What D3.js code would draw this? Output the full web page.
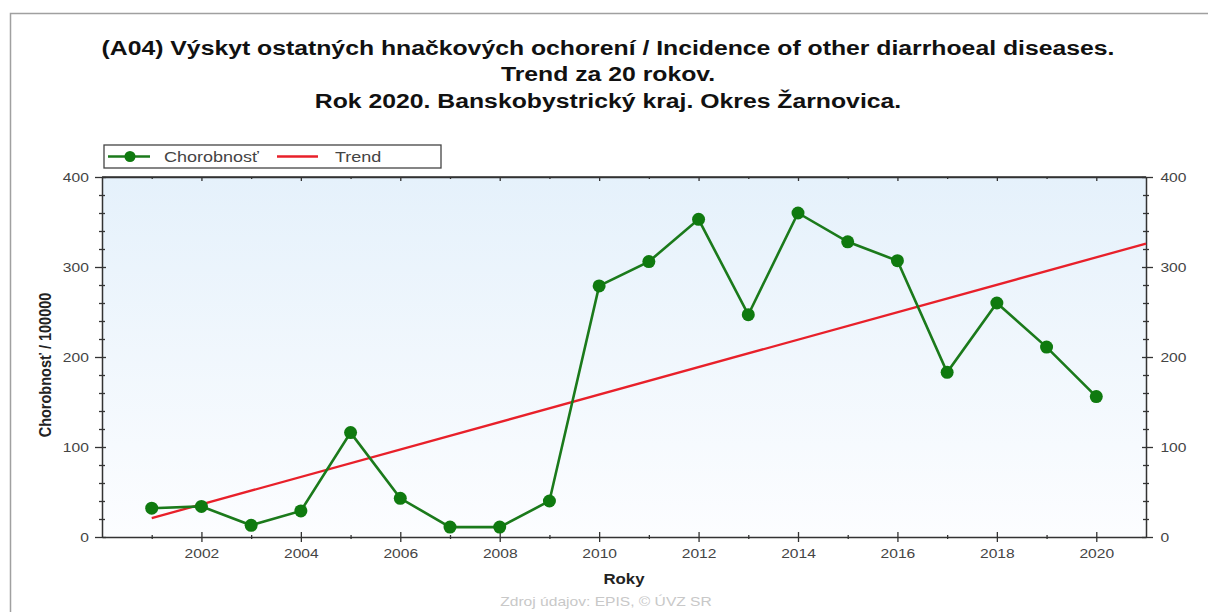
<!DOCTYPE html>
<html><head><meta charset="utf-8">
<script src="https://cdn.jsdelivr.net/npm/d3@7"></script>
<style>
body{margin:0;background:#fff;}
svg{display:block;font-family:"Liberation Sans",Arial,sans-serif;}
</style></head>
<body><svg id="c" width="1208" height="612"></svg>
<script>
const years = [2001,2002,2003,2004,2005,2006,2007,2008,2009,2010,2011,2012,2013,2014,2015,2016,2017,2018,2019,2020];
const chorobnost = [32,34,13,29,116,43,11,11,40,279,306,353,247,360,328,307,183,260,211,156];
const trendYears = [2001,2021];
const trendValues = [21,326];
const xTickLabels = [2002,2004,2006,2008,2010,2012,2014,2016,2018,2020];
const yTickLabels = [0,100,200,300,400];
const titleLines = ["(A04) Výskyt ostatných hnačkových ochorení / Incidence of other diarrhoeal diseases.","Trend za 20 rokov.","Rok 2020. Banskobystrický kraj. Okres Žarnovica."];

const SX = 1.2; // horizontal text stretch seen in the reference
const svg = d3.select("#c");
const L=102, R=1146, T=177, B=537;
const x = d3.scaleLinear().domain([2000,2021]).range([L,R]);
const y = d3.scaleLinear().domain([0,400]).range([B,T]);

function stretchedText(px, py, anchor){
  return svg.append("g").attr("transform",`translate(${px},${py}) scale(${SX},1)`)
    .append("text").attr("x",0).attr("y",0).attr("text-anchor",anchor||"middle");
}

// outer frame
svg.append("path").attr("d","M10.5,612 V13.5 H1208").attr("fill","none").attr("stroke","#a0a0a0").attr("stroke-width",1.5);

// title
const tg = svg.append("g").attr("transform",`translate(608,0) scale(1.18,1)`);
const tt = tg.append("text").attr("text-anchor","middle").attr("font-weight","bold").attr("font-size",21).attr("fill","#111");
titleLines.forEach((t,i)=>tt.append("tspan").attr("x",0).attr("y",55+i*26.5).text(t));

// background gradient
const defs = svg.append("defs");
const g = defs.append("linearGradient").attr("id","bg").attr("x1",0).attr("y1",0).attr("x2",0).attr("y2",1);
g.append("stop").attr("offset","0%").attr("stop-color","#e5f1fb");
g.append("stop").attr("offset","100%").attr("stop-color","#fcfdff");
svg.append("rect").attr("x",L).attr("y",T).attr("width",R-L).attr("height",B-T).attr("fill","url(#bg)");

// axes
const axCol="#333";
const minorX = d3.range(2001,2021,2);
const minorY = d3.range(0,401,20).filter(v=>v%100!==0);
function styleAxis(sel){sel.selectAll("path.domain").attr("stroke",axCol).attr("stroke-width",1.5);
  sel.selectAll(".tick line").attr("stroke",axCol).attr("stroke-width",1.3);
  sel.selectAll(".tick text").attr("fill","#444").attr("font-size",13).attr("font-family","'Liberation Sans',Arial,sans-serif");}
// bottom
const bx = svg.append("g").attr("transform",`translate(0,${B})`).call(d3.axisBottom(x).tickValues(xTickLabels).tickFormat(d3.format("d")).tickSize(5).tickSizeOuter(0).tickPadding(7));
bx.selectAll(".tick line").attr("y1",-5);
styleAxis(bx);
bx.selectAll(".tick text").attr("transform",`scale(${SX},1)`);
svg.append("g").attr("transform",`translate(0,${B})`).call(d3.axisBottom(x).tickValues(minorX).tickFormat("").tickSize(2).tickSizeOuter(0))
  .call(s=>{s.select(".domain").remove();s.selectAll("line").attr("y1",-2).attr("stroke",axCol).attr("stroke-width",1.3);});
// top
const tx = svg.append("g").attr("transform",`translate(0,${T})`).call(d3.axisTop(x).tickValues(xTickLabels).tickFormat("").tickSize(4).tickSizeOuter(0));
tx.selectAll(".tick line").attr("y1",4).attr("y2",0);
styleAxis(tx);
svg.append("g").attr("transform",`translate(0,${T})`).call(d3.axisTop(x).tickValues(minorX).tickFormat("").tickSize(2).tickSizeOuter(0))
  .call(s=>{s.select(".domain").remove();s.selectAll("line").attr("y1",2).attr("y2",0).attr("stroke",axCol).attr("stroke-width",1.3);});
// left
const ly = svg.append("g").attr("transform",`translate(${L},0)`).call(d3.axisLeft(y).tickValues(yTickLabels).tickSize(7).tickSizeOuter(0).tickPadding(4));
ly.selectAll(".tick line").attr("x2",4).attr("x1",-7);
styleAxis(ly);
ly.selectAll(".tick text").attr("transform",`scale(${SX},1)`);
svg.append("g").attr("transform",`translate(${L},0)`).call(d3.axisLeft(y).tickValues(minorY).tickFormat("").tickSize(3).tickSizeOuter(0))
  .call(s=>{s.select(".domain").remove();s.selectAll("line").attr("x1",-3).attr("x2",3).attr("stroke",axCol).attr("stroke-width",1.3);});
// right
const ry = svg.append("g").attr("transform",`translate(${R},0)`).call(d3.axisRight(y).tickValues(yTickLabels).tickSize(7).tickSizeOuter(0).tickPadding(5));
ry.selectAll(".tick line").attr("x1",-4).attr("x2",7);
styleAxis(ry);
ry.selectAll(".tick text").attr("transform",`scale(${SX},1)`);
svg.append("g").attr("transform",`translate(${R},0)`).call(d3.axisRight(y).tickValues(minorY).tickFormat("").tickSize(3).tickSizeOuter(0))
  .call(s=>{s.select(".domain").remove();s.selectAll("line").attr("x1",-3).attr("x2",3).attr("stroke",axCol).attr("stroke-width",1.3);});
svg.append("line").attr("x1",L).attr("x2",R).attr("y1",T).attr("y2",T).attr("stroke",axCol).attr("stroke-width",1.5);

// axis titles
svg.append("g").attr("transform",`translate(51,${(T+B)/2+8}) rotate(-90) scale(1,${SX})`)
  .append("text").attr("text-anchor","middle").attr("font-weight","bold").attr("font-size",14.5).attr("fill","#222").text("Chorobnosť / 100000");
stretchedText(624,584).attr("font-weight","bold").attr("font-size",14).attr("fill","#222").text("Roky");
stretchedText(606,606).attr("font-size",13).attr("fill","#c8c8c8").text("Zdroj údajov: EPIS, © ÚVZ SR");

// trend
const line = d3.line().x(d=>x(d[0])).y(d=>y(d[1]));
svg.append("path").datum(trendYears.map((t,i)=>[t,trendValues[i]])).attr("d",line).attr("fill","none").attr("stroke","#e8202a").attr("stroke-width",2.3);

// data
const pts = years.map((t,i)=>[t,chorobnost[i]]);
svg.append("path").datum(pts).attr("d",line).attr("fill","none").attr("stroke","#1b7a1b").attr("stroke-width",2.6);
svg.selectAll("circle.pt").data(pts).enter().append("circle").attr("class","pt").attr("cx",d=>x(d[0])).attr("cy",d=>y(d[1])).attr("r",6.5).attr("fill","#0f7a0f");

// legend
const lg = svg.append("g");
lg.append("rect").attr("x",104).attr("y",145).attr("width",337).attr("height",23).attr("fill","#fff").attr("stroke","#444").attr("stroke-width",1.3);
lg.append("line").attr("x1",108).attr("x2",150).attr("y1",156.5).attr("y2",156.5).attr("stroke","#1b7a1b").attr("stroke-width",2.6);
lg.append("circle").attr("cx",130).attr("cy",156.5).attr("r",5.5).attr("fill","#0f7a0f");
stretchedText(164,162,"start").attr("font-size",15).attr("fill","#444").text("Chorobnosť");
lg.append("line").attr("x1",277).attr("x2",318).attr("y1",156.5).attr("y2",156.5).attr("stroke","#e8202a").attr("stroke-width",2.3);
stretchedText(335,162,"start").attr("font-size",15).attr("fill","#444").text("Trend");
</script></body></html>
